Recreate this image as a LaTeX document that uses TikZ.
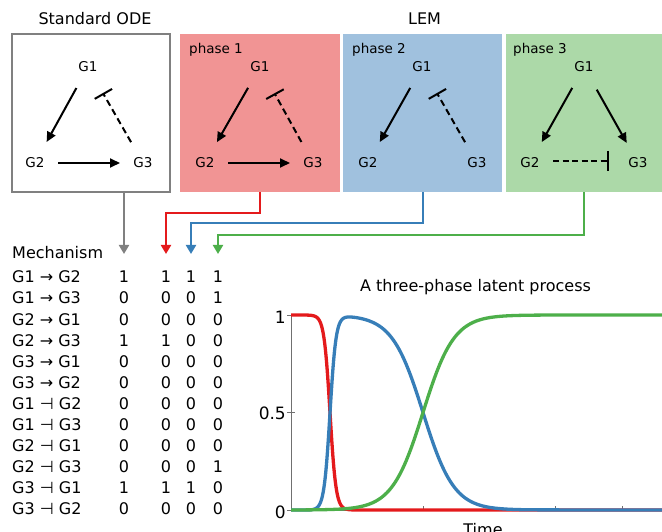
\documentclass[tikz,border=0pt]{standalone}
\usepackage{fontspec}
\setmainfont{DejaVu Sans}
\usetikzlibrary{arrows.meta}
\definecolor{pone}{HTML}{F19494}
\definecolor{ptwo}{HTML}{A0C1DE}
\definecolor{pthree}{HTML}{ACD9A8}
\definecolor{cred}{HTML}{E41A1C}
\definecolor{cblue}{HTML}{377EB8}
\definecolor{cgreen}{HTML}{4DAF4A}
\definecolor{cgray}{HTML}{808080}
\definecolor{axgray}{HTML}{707070}
\tikzset{
  gene/.style={inner sep=0pt, font=\fontsize{13.5}{16}\selectfont},
  phaselbl/.style={inner sep=0pt, anchor=base west, font=\fontsize{13.5}{16}\selectfont},
  titlelbl/.style={inner sep=0pt, anchor=base, font=\fontsize{16}{19}\selectfont},
  tabtxt/.style={inner sep=0pt, font=\fontsize{16}{19}\selectfont},
  ticklbl/.style={inner sep=0pt, anchor=east, font=\fontsize{17}{20}\selectfont},
  actarrow/.style={line width=2pt, -{Triangle[length=10pt,width=9pt]}},
  inharrow/.style={line width=2pt, dash pattern=on 6.5pt off 4pt, -{Bar[width=20pt,line width=2pt]}},
  phasebox/.style={inner sep=0pt, outer sep=0pt, minimum height=158pt},
  conn/.style={line width=2pt, -{Triangle[length=9pt,width=10pt]}},
  curve/.style={line width=3.3pt, line join=round, line cap=round},
}
\begin{document}
\begin{tikzpicture}[x=1pt,y=-1pt]
\clip (0,0) rectangle (662,532);
\useasboundingbox (0,0) rectangle (662,532);

% titles
\node[titlelbl] (tode) at (95,25) {Standard ODE};
\node[titlelbl] (tlem) at (424.5,25) {LEM};

% boxes
\node[phasebox, draw=cgray, line width=2pt, minimum width=158pt] (ode) at (91,113) {};
\node[phasebox, fill=pone, minimum width=160pt] (p1) at (260,113) {};
\node[phasebox, fill=ptwo, minimum width=159pt] (p2) at (422.5,113) {};
\node[phasebox, fill=pthree, minimum width=156pt] (p3) at (584,113) {};

\node[phaselbl] (l1) at (189,53.5) {phase 1};
\node[phaselbl] (l2) at (352,53.5) {phase 2};
\node[phaselbl] (l3) at (513,53.5) {phase 3};

% genes
\node[gene] (a1) at (88,67) {G1};
\node[gene] (a2) at (35,163) {G2};
\node[gene] (a3) at (143,163) {G3};
\node[gene] (b1) at (260,67) {G1};
\node[gene] (b2) at (205,163) {G2};
\node[gene] (b3) at (313,163) {G3};
\node[gene] (c1) at (422,67) {G1};
\node[gene] (c2) at (368,163) {G2};
\node[gene] (c3) at (477,163) {G3};
\node[gene] (d1) at (584,67) {G1};
\node[gene] (d2) at (530,163) {G2};
\node[gene] (d3) at (638,163) {G3};

% standard ODE edges
\draw[actarrow, shorten <=24pt, shorten >=24pt] (a1.center) -- (a2.center);
\draw[actarrow, shorten <=23pt, shorten >=23pt] (a2.center) -- (a3.center);
\draw[inharrow, shorten <=24pt, shorten >=30pt] (a3.center) -- (a1.center);
% phase 1
\draw[actarrow, shorten <=24pt, shorten >=24pt] (b1.center) -- (b2.center);
\draw[actarrow, shorten <=23pt, shorten >=23pt] (b2.center) -- (b3.center);
\draw[inharrow, shorten <=24pt, shorten >=30pt] (b3.center) -- (b1.center);
% phase 2
\draw[actarrow, shorten <=24pt, shorten >=24pt] (c1.center) -- (c2.center);
\draw[inharrow, shorten <=24pt, shorten >=30pt] (c3.center) -- (c1.center);
% phase 3
\draw[actarrow, shorten <=24pt, shorten >=24pt] (d1.center) -- (d2.center);
\draw[actarrow, shorten <=26pt, shorten >=23pt] (d1.center) -- (d3.center);
\draw[inharrow, dash pattern=on 6pt off 3.5pt, shorten <=23pt, shorten >=29pt] ([yshift=2pt]d2.center) -- ([yshift=2pt]d3.center);

% connectors
\coordinate (tgray) at (124,254);
\coordinate (tred) at (166,254);
\coordinate (tblue) at (191,254);
\coordinate (tgreen) at (218,254);
\draw[conn, cgray] (ode.south -| tgray) -- (tgray);
\draw[conn, cred] (p1.south) -- ++(0,21) -| (tred);
\draw[conn, cblue] (p2.south) -- ++(0,31) -| (tblue);
\draw[conn, cgreen] (p3.south) -- ++(0,43) -| (tgreen);

% table
\node[tabtxt, anchor=west] (mech) at (12,253) {Mechanism};
\foreach \lab/\va/\vb/\vc/\vd [count=\i from 0] in {
  G1 → G2/1/1/1/1, G1 → G3/0/0/0/1, G2 → G1/0/0/0/0, G2 → G3/1/1/0/0,
  G3 → G1/0/0/0/0, G3 → G2/0/0/0/0, G1 ⊣ G2/0/0/0/0, G1 ⊣ G3/0/0/0/0,
  G2 ⊣ G1/0/0/0/0, G2 ⊣ G3/0/0/0/1, G3 ⊣ G1/1/1/1/0, G3 ⊣ G2/0/0/0/0}{
  \node[tabtxt, anchor=west] (m\i) at (12,{277+21.1*\i}) {\lab};
  \node[tabtxt] (va\i) at (124,{277+21.1*\i}) {\va};
  \node[tabtxt] (vb\i) at (166,{277+21.1*\i}) {\vb};
  \node[tabtxt] (vc\i) at (191,{277+21.1*\i}) {\vc};
  \node[tabtxt] (vd\i) at (218,{277+21.1*\i}) {\vd};
}

% plot
\node[titlelbl] (ptitle) at (475.5,291) {A three-phase latent process};
\draw[axgray, line width=1pt] (291,315) -- (291,510);
\draw[axgray, line width=1pt] (291,510) -- (662,510);
\foreach \yy in {315,412.5,510} \draw[axgray, line width=1pt] (287,\yy) -- (295,\yy);
\foreach \xx in {357,423,489,555,622} \draw[axgray, line width=1pt] (\xx,510) -- (\xx,506);
\node[ticklbl] (t1) at (286,317) {1};
\node[ticklbl] (t05) at (286,413.5) {0.5};
\node[ticklbl] (t0) at (286,512) {0};
\node[titlelbl] (xlab) at (483,535) {Time};

\begin{scope}
\clip (291,300) rectangle (662,520);
% red
\draw[curve, cred] plot[domain=291:356, samples=130] (\x, {510-195/(1+exp((\x-330)/3))}) -- (662,510);
% blue
\draw[curve, cblue] plot[domain=291:356, samples=130]
  (\x, {510-195*(1-1/(1+exp((\x-330)/3))-1/(1+exp(-(\x-423)/15.5)))})
  -- plot[domain=356:545, samples=120] (\x, {510-195*(1-1/(1+exp(-(\x-423)/15.5)))}) -- (662,510);
% green
\draw[curve, cgreen] plot[domain=291:545, samples=160] (\x, {510-195/(1+exp(-(\x-423)/15.5))}) -- (662,315);
\end{scope}
\end{tikzpicture}
\end{document}
